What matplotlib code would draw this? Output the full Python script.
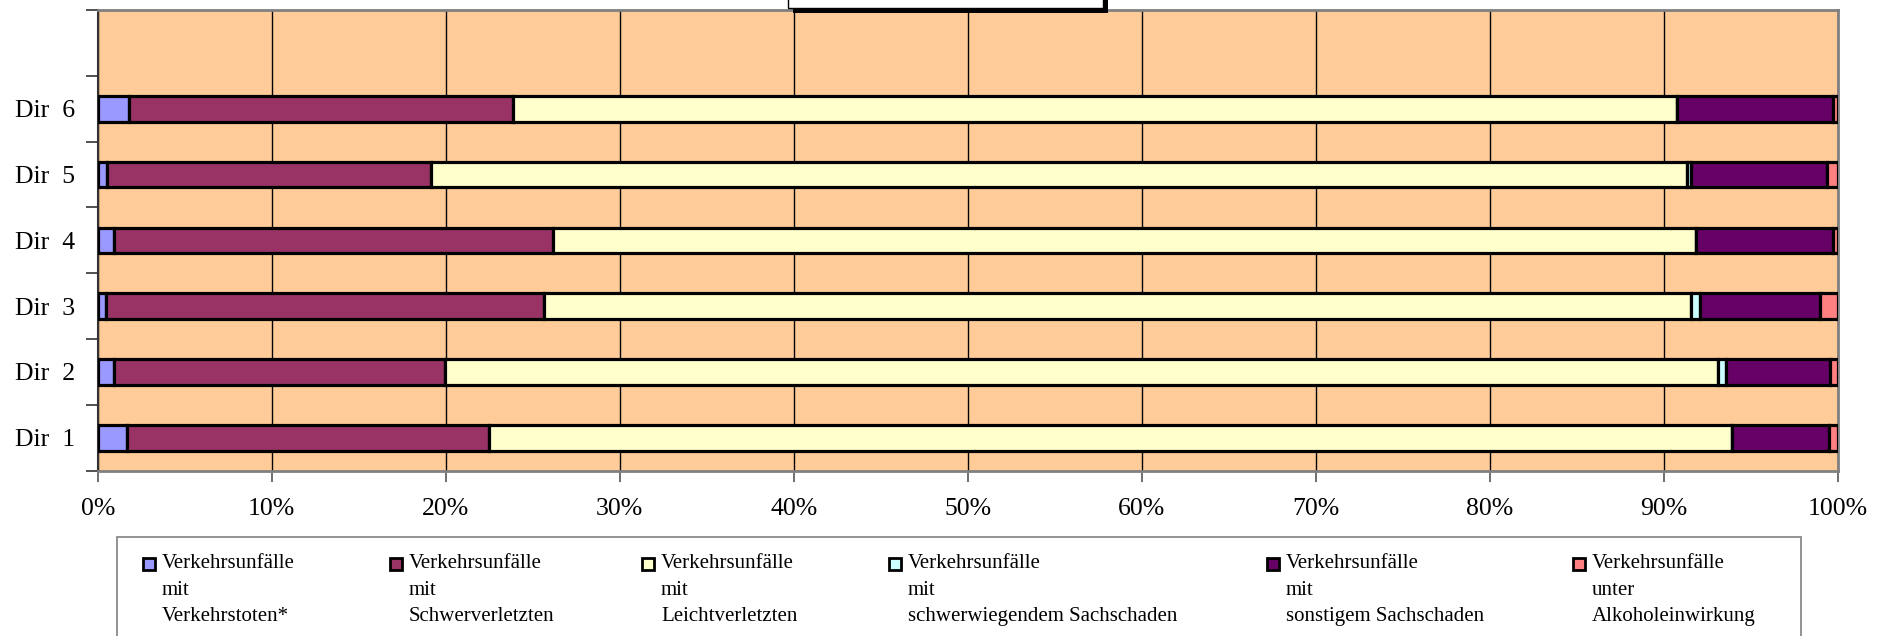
import numpy as np
import matplotlib
matplotlib.use("Agg")
import matplotlib.pyplot as plt
from matplotlib.patches import Rectangle

# data: shares (%) per direction, bottom-up Dir 1 .. Dir 6
categories = ["Dir  1", "Dir  2", "Dir  3", "Dir  4", "Dir  5", "Dir  6"]
series_names = [
    "Verkehrsunfälle\nmit\nVerkehrstoten*",
    "Verkehrsunfälle\nmit\nSchwerverletzten",
    "Verkehrsunfälle\nmit\nLeichtverletzten",
    "Verkehrsunfälle\nmit\nschwerwiegendem Sachschaden",
    "Verkehrsunfälle\nmit\nsonstigem Sachschaden",
    "Verkehrsunfälle\nunter\nAlkoholeinwirkung",
]
getoetete = [1.68, 0.94, 0.48, 0.95, 0.55, 1.80]
schwerverletzte = [20.78, 19.03, 25.16, 25.24, 18.59, 22.04]
leichtverletzte = [71.45, 73.17, 65.91, 65.65, 72.18, 66.91]
schwer_sachschaden = [0.00, 0.46, 0.54, 0.00, 0.25, 0.00]
sonst_sachschaden = [5.59, 5.96, 6.91, 7.91, 7.83, 9.00]
alkohol = [0.50, 0.44, 1.00, 0.25, 0.60, 0.25]
x_ticklabels = ["0%", "10%", "20%", "30%", "40%", "50%", "60%", "70%", "80%", "90%", "100%"]

colors = ["#9999FF", "#993366", "#FFFFCC", "#CCFFFF", "#660066", "#FF8080"]

plt.rcParams['font.family'] = ['Liberation Serif', 'DejaVu Serif']

W, H = 1888, 636
fig = plt.figure(figsize=(W / 100, H / 100), dpi=100)
fig.patch.set_facecolor("white")

ax = fig.add_axes([97.7 / W, 1 - 470.7 / H, 1740 / W, 460.7 / H])
ax.set_facecolor("#FFCC99")

data = np.array([getoetete, schwerverletzte, leichtverletzte,
                 schwer_sachschaden, sonst_sachschaden, alkohol])
shares = data / data.sum(axis=0) * 100
y = np.arange(len(categories))
left = np.zeros(len(categories))
for vals, col, name in zip(shares, colors, series_names):
    ax.barh(y, vals, left=left, height=0.39, color=col, edgecolor="black",
            linewidth=2.3, label=name, zorder=3)
    left += vals

ax.set_xlim(0, 100)
ax.set_ylim(-0.5, len(categories) + 0.5)

ax.set_xticks(np.arange(0, 101, 10))
ax.set_xticklabels(x_ticklabels, fontsize=18.5)
ax.xaxis.grid(True, color="black", linewidth=1, zorder=1)
ax.set_axisbelow(True)
ax.tick_params(axis="x", direction="out", length=8, width=1.2, color="#555555", pad=12)

ax.set_yticks(np.arange(-0.5, len(categories) + 0.6, 1))
ax.set_yticklabels([])
ax.set_yticks(y, minor=True)
ax.set_yticklabels(categories, minor=True, fontsize=18.5)
ax.tick_params(axis="y", which="major", direction="out", length=9, width=1.2, color="#333333")
ax.tick_params(axis="y", which="minor", length=0, pad=16.5)

for s in ["top", "right", "bottom"]:
    ax.spines[s].set_color("#808080")
    ax.spines[s].set_linewidth(2)
ax.spines["left"].set_color("#333333")
ax.spines["left"].set_linewidth(1.5)

# cut-off title box at the top
def fig_rect(x0, y0, x1, y1, **kw):
    r = Rectangle((x0 / W, 1 - y1 / H), (x1 - x0) / W, (y1 - y0) / H,
                  transform=fig.transFigure, **kw)
    fig.add_artist(r)
    return r

fig_rect(793, -20, 1108, 13, facecolor="black", edgecolor="none", zorder=5)
fig_rect(788, -20, 1103, 8, facecolor="white", edgecolor="black", linewidth=1, zorder=6)

# legend box
fig_rect(117, 537, 1801, 660, facecolor="white", edgecolor="#808080", linewidth=1.2, zorder=5)
leg_x = [143, 390, 642, 889, 1267, 1573]
for lx, col, name in zip(leg_x, colors, series_names):
    fig_rect(lx, 558, lx + 12, 570, facecolor=col, edgecolor="black", linewidth=2, zorder=6)
    fig.text((lx + 19) / W, 1 - 554 / H, name, fontsize=15, va="top", ha="left",
             linespacing=1.55, zorder=7)

fig.savefig("out.png", dpi=100)
